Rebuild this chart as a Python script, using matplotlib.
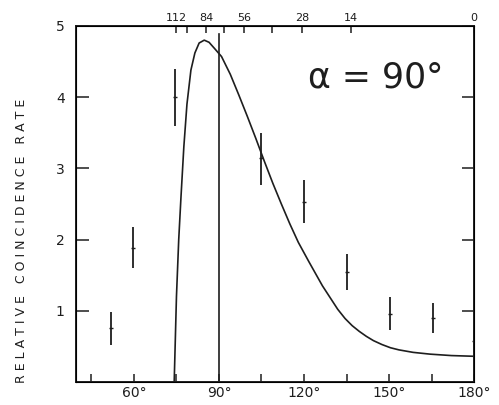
import matplotlib
matplotlib.use('Agg')
import numpy as np
import matplotlib.pyplot as plt

# measured coincidence rates (angle in deg, value, error-bar low/high)
pt_angle = [52, 59.5, 74.5, 105, 120, 135, 150.5, 165.5, 180]
pt_rate  = [0.76, 1.88, 4.0, 3.14, 2.52, 1.55, 0.96, 0.90, 0.57]
pt_low   = [0.52, 1.60, 3.60, 2.76, 2.23, 1.29, 0.73, 0.69, 0.42]
pt_high  = [0.98, 2.17, 4.40, 3.49, 2.83, 1.80, 1.19, 1.11, 0.73]

# theory curve
th_angle = [74.2, 75.0, 75.8, 76.6, 77.6, 78.7, 80.1, 81.5, 83.0, 84.8, 86.5,
            88.5, 90.9, 94.0, 97.0, 100.0, 103.0, 106.0, 109.0, 112.0, 115.0,
            118.0, 121.7, 126.5, 131.9, 134.5, 137.0, 139.5, 142.0, 144.5,
            147.5, 150.5, 153.5, 158.5, 164.5, 172.0, 180.0]
th_rate  = [0.0, 1.2, 2.0, 2.6, 3.3, 3.9, 4.38, 4.62, 4.76, 4.8, 4.77,
            4.68, 4.57, 4.32, 4.03, 3.73, 3.42, 3.10, 2.79, 2.50, 2.22,
            1.96, 1.69, 1.35, 1.02, 0.89, 0.79, 0.71, 0.64, 0.58,
            0.525, 0.48, 0.45, 0.415, 0.39, 0.37, 0.36]

# vertical marker line
vline_angle = 90
vline_top = 4.89

# bottom axis ticks
bot_ticks = [45, 60, 75, 90, 105, 120, 135, 150, 165, 180]
bot_labels = ['', '60°', '', '90°', '', '120°', '', '150°', '', '180°']

# top axis (energy scale) ticks
top_ticks = [74.9, 78.8, 85.5, 91.8, 98.9, 108.8, 119.4, 136.7, 180]
top_labels = ['112', '', '84', '', '56', '', '28', '14', '0']

ink = '#1e1e1e'

fig = plt.figure(figsize=(4.99, 4.05), dpi=100)
ax = fig.add_axes([0.152, 0.057, 0.798, 0.879])

ax.plot(th_angle, th_rate, color=ink, lw=1.2)
ax.plot([vline_angle, vline_angle], [0, vline_top], color=ink, lw=1.2)

yerr = [np.array(pt_rate) - np.array(pt_low), np.array(pt_high) - np.array(pt_rate)]
ax.errorbar(pt_angle, pt_rate, yerr=yerr, fmt='_', color=ink, ms=3,
            elinewidth=1.3, capsize=0)

ax.set_xlim(39.5, 180)
ax.set_ylim(0, 5)
ax.set_xticks(bot_ticks)
ax.set_xticklabels(bot_labels, fontsize=10, color=ink)
ax.set_yticks([1, 2, 3, 4, 5])
ax.set_yticklabels(['1', '2', '3', '4', '5'], fontsize=10, color=ink)
ax.tick_params(axis='x', direction='in', length=6, width=1.1, color=ink, pad=3)
ax.tick_params(axis='y', direction='in', length=9, width=1.1, color=ink, pad=8,
               right=True)
for s in ax.spines.values():
    s.set_linewidth(1.4)
    s.set_color(ink)

top = ax.twiny()
top.set_xlim(ax.get_xlim())
top.set_xticks(top_ticks)
top.set_xticklabels(top_labels, fontsize=8, color=ink)
top.tick_params(axis='x', direction='in', length=5, width=1.1, color=ink, pad=2)

ax.text(0.754, 0.854, 'α = 90°', transform=ax.transAxes, fontsize=25,
        ha='center', va='center', color=ink)

fig.text(0.044, 0.405, 'R E L A T I V E   C O I N C I D E N C E   R A T E',
         rotation=90, ha='center', va='center', fontsize=9, color=ink)

fig.savefig('out.png', dpi=100)
